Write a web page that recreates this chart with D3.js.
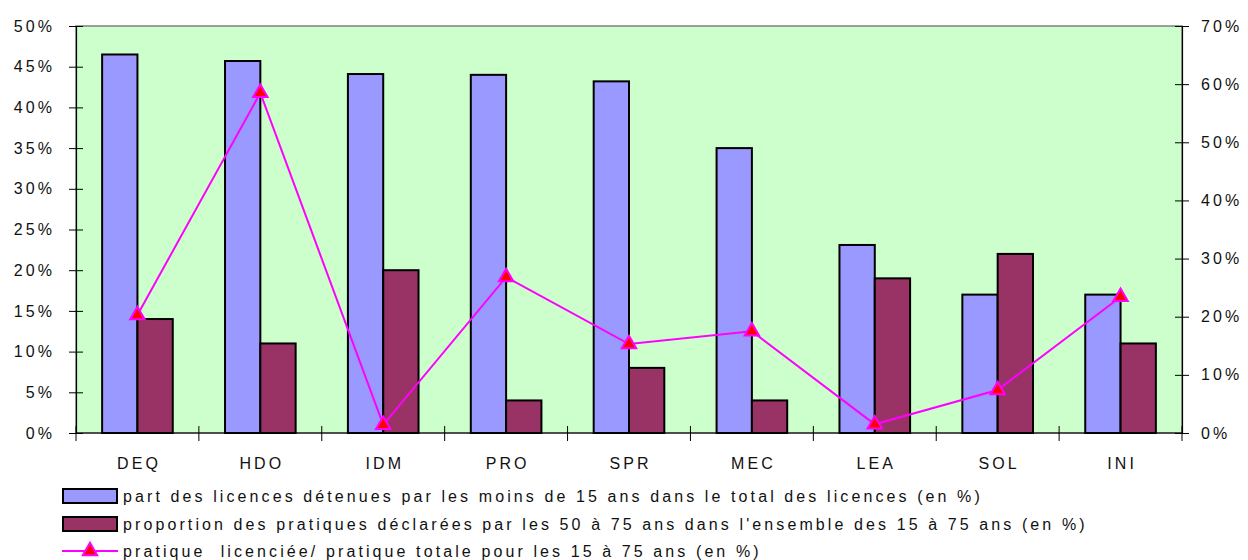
<!DOCTYPE html>
<html>
<head>
<meta charset="utf-8">
<script src="https://cdn.jsdelivr.net/npm/d3@7"></script>
<style>
  body { margin: 0; background: #fff; }
  svg text { font-family: "Liberation Sans", Arial, sans-serif; fill: #111; }
</style>
</head>
<body>
<div id="chart"></div>
<script>
// ── Données ──────────────────────────────────────────────
const categories = ['DEQ', 'HDO', 'IDM', 'PRO', 'SPR', 'MEC', 'LEA', 'SOL', 'INI'];
const partMoins15 = [46.5, 45.7, 44.1, 44.0, 43.2, 35.0, 23.1, 17.0, 17.0];
const part50a75  = [14, 11, 20, 4, 8, 4, 19, 22, 11];
const ratioLicence = [20.3, 58.5, 1.4, 26.8, 15.3, 17.5, 1.5, 7.4, 23.4];
const leftTicks  = [0, 5, 10, 15, 20, 25, 30, 35, 40, 45, 50];
const rightTicks = [0, 10, 20, 30, 40, 50, 60, 70];
const legendLabels = [
    'part des licences détenues par les moins de 15 ans dans le total des licences (en %)',
    "proportion des pratiques déclarées par les 50 à 75 ans dans l'ensemble des 15 à 75 ans (en %)",
    'pratique  licenciée/ pratique totale pour les 15 à 75 ans (en %)'
];

const W = 1248, H = 560;
const plot = { left: 76, right: 1182, top: 26, bottom: 433 };
const colBlue = '#9999FF', colMaroon = '#993366', colLine = '#FF00FF';
const fontSize = '16px', spacing = 3.1;

const svg = d3.select('#chart').append('svg').attr('width', W).attr('height', H);

const x = d3.scaleBand().domain(categories).range([plot.left, plot.right]);
const inner = d3.scaleBand().domain([0, 1]).range([0, x.bandwidth()])
    .paddingOuter(0.74).paddingInner(0);
const yL = d3.scaleLinear().domain([0, 50]).range([plot.bottom, plot.top]);
const yR = d3.scaleLinear().domain([0, 70]).range([plot.bottom, plot.top]);

// Fond de la zone de traçage
svg.append('rect')
    .attr('x', plot.left).attr('y', plot.top)
    .attr('width', plot.right - plot.left).attr('height', plot.bottom - plot.top)
    .attr('fill', '#CCFFCC').attr('stroke', '#808080').attr('stroke-width', 1.5);

// Barres
const series = [
    { values: partMoins15, color: colBlue },
    { values: part50a75, color: colMaroon }
];
series.forEach((s, si) => {
    svg.append('g').selectAll('rect').data(s.values).join('rect')
        .attr('x', (d, i) => x(categories[i]) + inner(si))
        .attr('y', d => yL(d))
        .attr('width', inner.bandwidth())
        .attr('height', d => yL(0) - yL(d))
        .attr('fill', s.color).attr('stroke', '#000').attr('stroke-width', 2);
});

// Axes
const axisStyle = g => {
    g.selectAll('.domain').attr('stroke', '#000').attr('stroke-width', 1.2);
    g.selectAll('.tick line').attr('stroke', '#000');
    g.selectAll('.tick text')
        .style('font-size', fontSize).style('letter-spacing', spacing + 'px');
};

svg.append('g')
    .attr('transform', `translate(${plot.left},0)`)
    .call(d3.axisLeft(yL).tickValues(leftTicks).tickFormat(d => d + '%')
        .tickSizeInner(7).tickSizeOuter(0).tickPadding(14))
    .call(axisStyle)
    .call(g => g.selectAll('.tick line').attr('x2', -7).attr('x1', 7));

svg.append('g')
    .attr('transform', `translate(${plot.right},0)`)
    .call(d3.axisRight(yR).tickValues(rightTicks).tickFormat(d => d + '%')
        .tickSizeInner(7).tickSizeOuter(0).tickPadding(12))
    .call(axisStyle)
    .call(g => g.selectAll('.tick line').attr('x1', -7).attr('x2', 7));

// Axe des catégories (graduations entre les catégories)
const xAxis = svg.append('g').attr('transform', `translate(0,${plot.bottom})`);
xAxis.append('line')
    .attr('x1', plot.left).attr('x2', plot.right)
    .attr('stroke', '#000').attr('stroke-width', 1.2);
const boundaries = categories.map(c => x(c)).concat([plot.right]);
xAxis.selectAll('line.tk').data(boundaries).join('line')
    .attr('class', 'tk')
    .attr('x1', d => d).attr('x2', d => d)
    .attr('y1', -7).attr('y2', 8)
    .attr('stroke', '#000');
xAxis.selectAll('text').data(categories).join('text')
    .attr('x', d => x(d) + x.bandwidth() / 2 + spacing / 2)
    .attr('y', 36)
    .attr('text-anchor', 'middle')
    .style('font-size', fontSize).style('letter-spacing', spacing + 'px')
    .text(d => d);

// Courbe (axe de droite)
const cx = (d, i) => x(categories[i]) + x.bandwidth() / 2;
const line = d3.line().x(cx).y(d => yR(d));
svg.append('path').datum(ratioLicence)
    .attr('d', line).attr('fill', 'none')
    .attr('stroke', colLine).attr('stroke-width', 2);

const tri = d3.symbol().type(d3.symbolTriangle).size(90);
svg.append('g').selectAll('path').data(ratioLicence).join('path')
    .attr('transform', (d, i) => `translate(${cx(d, i)},${yR(d)})`)
    .attr('d', tri)
    .attr('fill', '#FF0000').attr('stroke', colLine).attr('stroke-width', 2);

// Légende
const legend = svg.append('g');
const legY = [496, 524, 551];
legendLabels.forEach((lab, i) => {
    const row = legend.append('g').attr('transform', `translate(0,${legY[i]})`);
    if (i < 2) {
        row.append('rect')
            .attr('x', 63).attr('y', -7).attr('width', 54).attr('height', 14)
            .attr('fill', i === 0 ? colBlue : colMaroon)
            .attr('stroke', '#000').attr('stroke-width', 2);
    } else {
        row.append('line')
            .attr('x1', 62).attr('x2', 118).attr('y1', 0).attr('y2', 0)
            .attr('stroke', colLine).attr('stroke-width', 2);
        row.append('path')
            .attr('transform', 'translate(90,0)')
            .attr('d', tri)
            .attr('fill', '#FF0000').attr('stroke', colLine).attr('stroke-width', 2);
    }
    row.append('text')
        .attr('x', 123).attr('y', 6)
        .attr('xml:space', 'preserve').style('white-space', 'pre')
        .style('font-size', fontSize).style('letter-spacing', spacing + 'px')
        .text(lab);
});
</script>
</body>
</html>
